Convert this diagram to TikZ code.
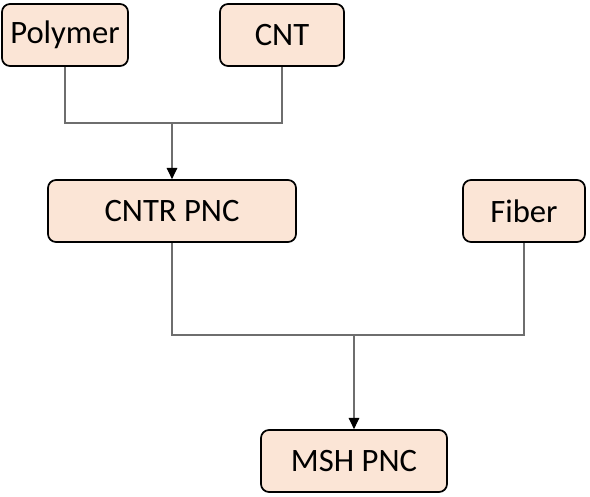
\documentclass[tikz,border=0pt]{standalone}
\usepackage{fontspec}
\setmainfont{Carlito}
\usetikzlibrary{arrows.meta}
\definecolor{boxfill}{HTML}{FBE5D6}
\definecolor{linkgray}{HTML}{6E6E6E}
\tikzset{
  stagebox/.style={draw=black, line width=1.3pt, fill=boxfill, rounded corners=6pt,
    minimum height=46.5pt, inner sep=0pt, font=\fontsize{24.5}{28}\selectfont},
  link/.style={draw=linkgray, line width=0.8pt},
  feed/.style={link, -{Triangle[length=8.5pt, width=8pt, color=black]}}
}
\begin{document}
\begin{tikzpicture}[x=0.75pt, y=-0.75pt]
\useasboundingbox (0,0) rectangle (590,497);
\node[stagebox, minimum width=94.5pt] (polymer) at (65,35) {Polymer};
\node[stagebox, minimum width=93pt] (cnt) at (282,35) {CNT};
\node[stagebox, minimum width=186pt] (cntr) at (172,211) {CNTR PNC};
\node[stagebox, minimum width=91.5pt] (fiber) at (524,211) {Fiber};
\node[stagebox, minimum width=139.5pt] (msh) at (354,461) {MSH PNC};
\coordinate (joinA) at (172,123);
\coordinate (joinB) at (354,335);
\draw[link] (polymer.south) |- (joinA) -| (cnt.south);
\draw[feed] (joinA) -- (cntr.north);
\draw[link] (cntr.south) |- (joinB) -| (fiber.south);
\draw[feed] (joinB) -- (msh.north);
\end{tikzpicture}
\end{document}
